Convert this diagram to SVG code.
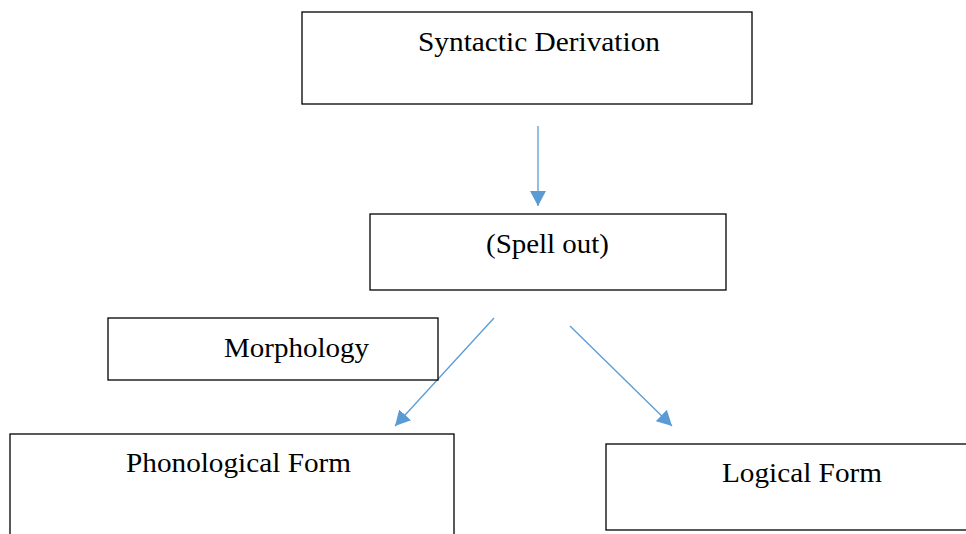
<svg xmlns="http://www.w3.org/2000/svg" width="966" height="534" viewBox="0 0 966 534">
<style>
.box{fill:#fff;stroke:#000;stroke-width:1.3}
.t{font-family:"Liberation Serif","Times New Roman",serif;font-size:27px;fill:#000}
.c{stroke:#5B9BD5;stroke-width:1.3;fill:none}
</style>
<defs>
<marker id="ah" viewBox="0 0 10 10" refX="10" refY="5" markerWidth="15" markerHeight="16" markerUnits="userSpaceOnUse" orient="auto" preserveAspectRatio="none">
<path d="M0,0 L10,5 L0,10 Z" fill="#5B9BD5"/>
</marker>
</defs>
<rect width="966" height="534" fill="#fff"/>
<g id="connectors">
<line class="c" x1="538" y1="126" x2="538" y2="206" marker-end="url(#ah)"/>
<line class="c" x1="494" y1="318" x2="395" y2="426" marker-end="url(#ah)"/>
<line class="c" x1="570" y1="326" x2="672" y2="426" marker-end="url(#ah)"/>
</g>
<g id="syntactic">
<rect class="box" x="302" y="12" width="450" height="92"/>
<text class="t" x="418" y="51" textLength="242" lengthAdjust="spacingAndGlyphs">Syntactic Derivation</text>
</g>
<g id="spellout">
<rect class="box" x="370" y="214" width="356" height="76"/>
<text class="t" x="486" y="253" textLength="123" lengthAdjust="spacingAndGlyphs">(Spell out)</text>
</g>
<g id="morphology">
<rect class="box" x="108" y="318" width="330" height="62"/>
<text class="t" x="224" y="357" textLength="145" lengthAdjust="spacingAndGlyphs">Morphology</text>
</g>
<g id="phonological">
<rect class="box" x="10" y="434" width="444" height="110"/>
<text class="t" x="126" y="472" textLength="225" lengthAdjust="spacingAndGlyphs">Phonological Form</text>
</g>
<g id="logical">
<rect class="box" x="606" y="444" width="370" height="86"/>
<text class="t" x="722" y="482" textLength="160" lengthAdjust="spacingAndGlyphs">Logical Form</text>
</g>
</svg>
